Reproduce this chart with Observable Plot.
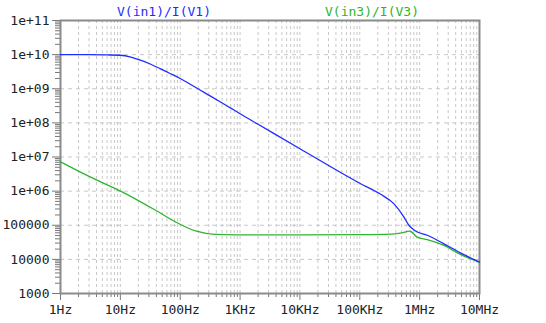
<!DOCTYPE html>
<html>
<head>
<meta charset="utf-8">
<script src="https://cdn.jsdelivr.net/npm/d3@7"></script>
<script src="https://cdn.jsdelivr.net/npm/@observablehq/plot@0.6"></script>
<style>
  html, body { margin: 0; padding: 0; background: #fff; }
  svg { display: block; }
  #chart svg text { font-family: "DejaVu Sans Mono", monospace; font-size: 13px; }
</style>
</head>
<body>
<div id="chart"></div>
<script>
// Frequencies (Hz) and impedances
const blueFreq = [1, 3, 6, 10, 15, 21.6, 30, 46, 65, 100, 150, 218, 320, 471, 700, 1e3, 2e3, 1e4, 1e5, 2.2e5, 3.7e5, 5.4e5, 6.6e5, 8.5e5, 1.34e6, 2.5e6, 4.8e6, 1e7];
const blueVal  = [1.0e10, 9.95e9, 9.8e9, 9.6e9, 8.5e9, 6.9e9, 5.5e9, 3.9e9, 2.9e9, 2.0e9, 1.33e9, 9.0e8, 6.1e8, 4.1e8, 2.7e8, 1.85e8, 9.1e7, 1.75e7, 1.7e6, 8.2e5, 4.3e5, 1.8e5, 1.0e5, 6.8e4, 5.1e4, 2.9e4, 1.55e4, 8.3e3];

const greenFreq = [1, 3, 10.7, 38.6, 83, 180, 390, 1800, 1e4, 1e5, 3.26e5, 5e5, 6.85e5, 9.1e5, 1.34e6, 2.5e6, 4.8e6, 1e7];
const greenVal  = [7.2e6, 2.7e6, 9.5e5, 2.75e5, 1.26e5, 6.8e4, 5.4e4, 5.2e4, 5.2e4, 5.3e4, 5.5e4, 6.0e4, 6.7e4, 4.5e4, 3.8e4, 2.6e4, 1.4e4, 8.3e3];

const seriesNames = ["V(in1)/I(V1)", "V(in3)/I(V3)"];
const seriesColors = ["#1f2cff", "#2db52d"];

const xMajor = [1, 10, 100, 1e3, 1e4, 1e5, 1e6, 1e7];
const xLabels = ["1Hz", "10Hz", "100Hz", "1KHz", "10KHz", "100KHz", "1MHz", "10MHz"];
const yMajor = [1e3, 1e4, 1e5, 1e6, 1e7, 1e8, 1e9, 1e10, 1e11];
const yLabels = ["1000", "10000", "100000", "1e+06", "1e+07", "1e+08", "1e+09", "1e+10", "1e+11"];

const minorOf = majors => majors.slice(0, -1).flatMap(d => d3.range(2, 10).map(k => k * d));
const xMinor = minorOf(xMajor);
const yMinor = minorOf(yMajor);

const blue = blueFreq.map((f, i) => ({f, v: blueVal[i]}));
const green = greenFreq.map((f, i) => ({f, v: greenVal[i]}));

const font = "DejaVu Sans Mono, monospace";

const chart = Plot.plot({
  width: 546,
  height: 323,
  marginLeft: 60,
  marginRight: 67,
  marginTop: 20,
  marginBottom: 30,
  style: {fontFamily: font, fontSize: "13px", color: "#222", background: "#fff"},
  x: {type: "log", domain: [1, 1e7], label: null},
  y: {type: "log", domain: [1e3, 1e11], label: null},
  marks: [
    Plot.gridX(xMinor.concat(xMajor), {stroke: "#c8c8c8", strokeOpacity: 1, strokeDasharray: "3,3"}),
    Plot.gridY(yMajor, {stroke: "#c8c8c8", strokeOpacity: 1, strokeDasharray: "4,4"}),
    Plot.axisX(xMinor, {tickSize: 4, text: null, stroke: "#777", label: null}),
    Plot.axisX(xMajor, {tickSize: 7, tickPadding: 4, stroke: "#777", fill: "#222", label: null,
      tickFormat: d => xLabels[xMajor.indexOf(d)], fontSize: 13}),
    Plot.axisY(yMinor, {tickSize: 5, text: null, stroke: "#777", label: null}),
    Plot.axisY(yMajor, {tickSize: 8, tickPadding: 3, stroke: "#777", fill: "#222", label: null,
      tickFormat: d => yLabels[yMajor.indexOf(d)], fontSize: 13}),
    Plot.frame({stroke: "#8a8a8a", strokeWidth: 2}),
    Plot.line(green, {x: "f", y: "v", stroke: seriesColors[1], strokeWidth: 1.3, curve: "monotone-x"}),
    Plot.line(blue, {x: "f", y: "v", stroke: seriesColors[0], strokeWidth: 1.3, curve: "monotone-x"}),
    Plot.text([seriesNames[0]], {frameAnchor: "top", dx: -106, dy: -9, lineAnchor: "middle",
      fill: seriesColors[0], fontSize: 13, text: d => d}),
    Plot.text([seriesNames[1]], {frameAnchor: "top", dx: 102, dy: -9, lineAnchor: "middle",
      fill: seriesColors[1], fontSize: 13, text: d => d})
  ]
});
document.getElementById("chart").appendChild(chart);
</script>
</body>
</html>
